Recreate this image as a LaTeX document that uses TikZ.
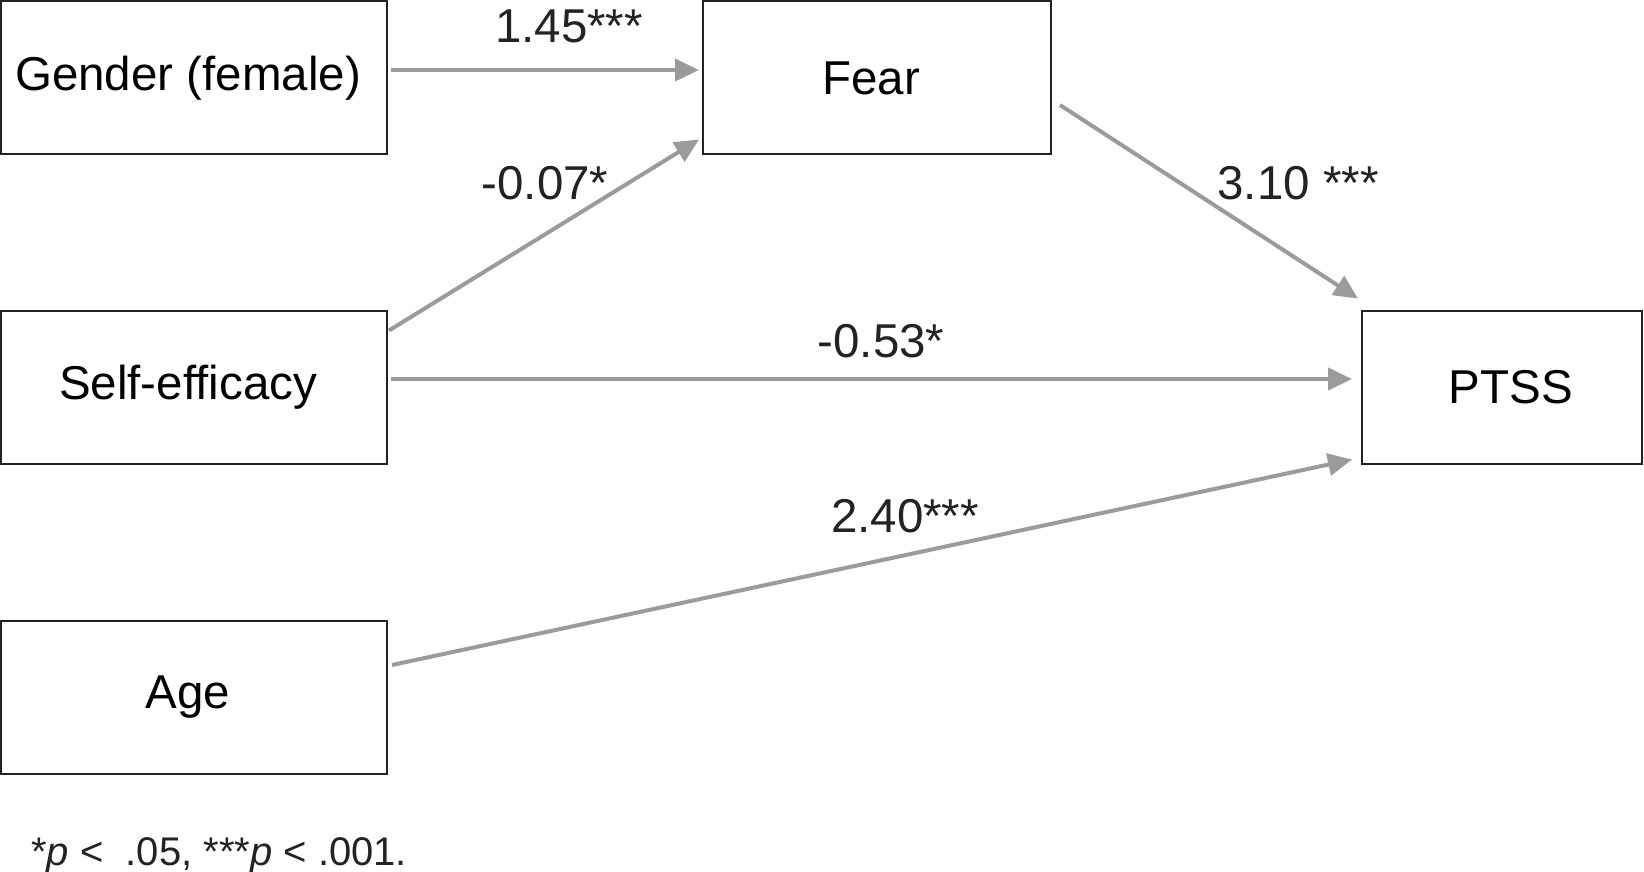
\documentclass[tikz,border=0pt]{standalone}
\usepackage{fontspec}
\setmainfont{Liberation Sans}
\usetikzlibrary{arrows.meta,calc}
\definecolor{arrowgray}{RGB}{155,155,155}
\definecolor{boxline}{RGB}{35,35,35}
\begin{document}
\begin{tikzpicture}[x=1pt,y=-1pt,
  box/.style={draw=boxline, line width=2pt, fill=white, inner sep=0pt,
    minimum width=386pt, minimum height=153pt, font=\fontsize{47.5}{52}\selectfont},
  conn/.style={draw=arrowgray, line width=4pt, -{Triangle[length=24pt,width=22pt]}},
  lab/.style={font=\fontsize{47.5}{52}\selectfont, inner sep=0pt, text=boxline},
  foot/.style={font=\fontsize{40}{44}\selectfont, inner sep=0pt, anchor=west, text=boxline}]
\useasboundingbox (0,0) rectangle (1644,872);
\fill[white] (0,0) rectangle (1644,872);

\node[box] (g) at (194,78) {\hspace*{-12pt}Gender (female)};
\node[box, minimum width=348pt] (f) at (877,78) {\hspace*{-12pt}Fear};
\node[box] (se) at (194,387) {\hspace*{-12pt}Self-efficacy};
\node[box, minimum width=280pt] (p) at (1502,387) {\hspace*{18pt}PTSS};
\node[box] (a) at (194,697) {\hspace*{-12pt}Age};

\draw[conn] ($(g.east)+(3,-8)$) -- ($(f.west)+(-3,-8)$);
\draw[conn] ($(se.north east)+(1,21)$) -- ($(f.south west)+(-3,-16)$);
\draw[conn] ($(f.east)+(8,27)$) -- ($(p.north west)+(-3,-11)$);
\draw[conn] ($(se.east)+(3,-8)$) -- ($(p.west)+(-9,-8)$);
\draw[conn] ($(a.east)+(4,-32)$) -- ($(p.south west)+(-9,-5)$);

\node[lab] (l1) at (569,26) {1.45***};
\node[lab] (l2) at (545,183) {-0.07*};
\node[lab] (l3) at (1298,183) {3.10 ***};
\node[lab] (l4) at (881,341) {-0.53*};
\node[lab] (l5) at (905,516) {2.40***};
\node[foot] (fn) at (31,856) {*\textit{p} <\ \ .05, ***\textit{p} < .001.};
\end{tikzpicture}
\end{document}
